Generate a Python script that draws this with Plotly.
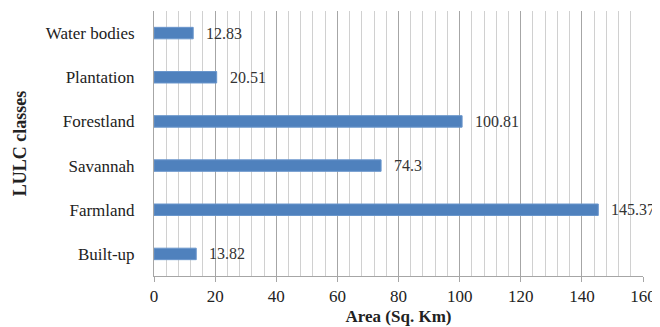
import plotly.graph_objects as go

categories = ["Built-up", "Farmland", "Savannah", "Forestland", "Plantation", "Water bodies"]
values = [13.82, 145.37, 74.3, 100.81, 20.51, 12.83]
value_labels = ["13.82", "145.37", "74.3", "100.81", "20.51", "12.83"]
x_ticks = [0, 20, 40, 60, 80, 100, 120, 140, 160]

FONT = "Liberation Serif"

fig = go.Figure()
fig.add_trace(go.Bar(
    y=categories, x=values, orientation="h",
    marker=dict(color="#4F81BD", line=dict(color="#6A96CC", width=1)),
    width=0.26,
    hoverinfo="skip",
))

for c, v, t in zip(categories, values, value_labels):
    fig.add_annotation(x=v, y=c, text=t, showarrow=False, xanchor="left",
                       xshift=11, font=dict(family=FONT, size=16, color="#333333"))

# page body adds an 8px offset, so the figure is sized to fit the 660x327 window
fig.update_layout(
    width=652, height=319,
    margin=dict(l=146, r=17, t=3, b=51),
    paper_bgcolor="white", plot_bgcolor="white",
    showlegend=False,
    font=dict(family=FONT, size=16, color="#222222"),
)
fig.update_xaxes(
    range=[0, 160], tickvals=x_ticks, ticktext=[str(t) for t in x_ticks],
    showgrid=True, gridcolor="#A6A6A6", gridwidth=1,
    minor=dict(dtick=4, tick0=0, showgrid=True, gridcolor="#D0D0D0", gridwidth=1),
    showline=True, linecolor="#A6A6A6", linewidth=1,
    ticks="outside", ticklen=5, tickcolor="#A6A6A6",
    tickfont=dict(family=FONT, size=17, color="#222222"),
    title=dict(text="<b>Area (Sq. Km)</b>", font=dict(family=FONT, size=17, color="#222222"), standoff=4),
    zeroline=False, automargin=False,
)
fig.update_yaxes(
    categoryorder="array", categoryarray=categories,
    showgrid=False, showline=True, linecolor="#A6A6A6", linewidth=1,
    ticks="", ticklabelstandoff=15,
    tickfont=dict(family=FONT, size=17, color="#222222"),
    title=dict(text="<b>LULC classes</b>", font=dict(family=FONT, size=18, color="#222222"), standoff=14),
    automargin=False,
)

fig.write_html("out.html")
